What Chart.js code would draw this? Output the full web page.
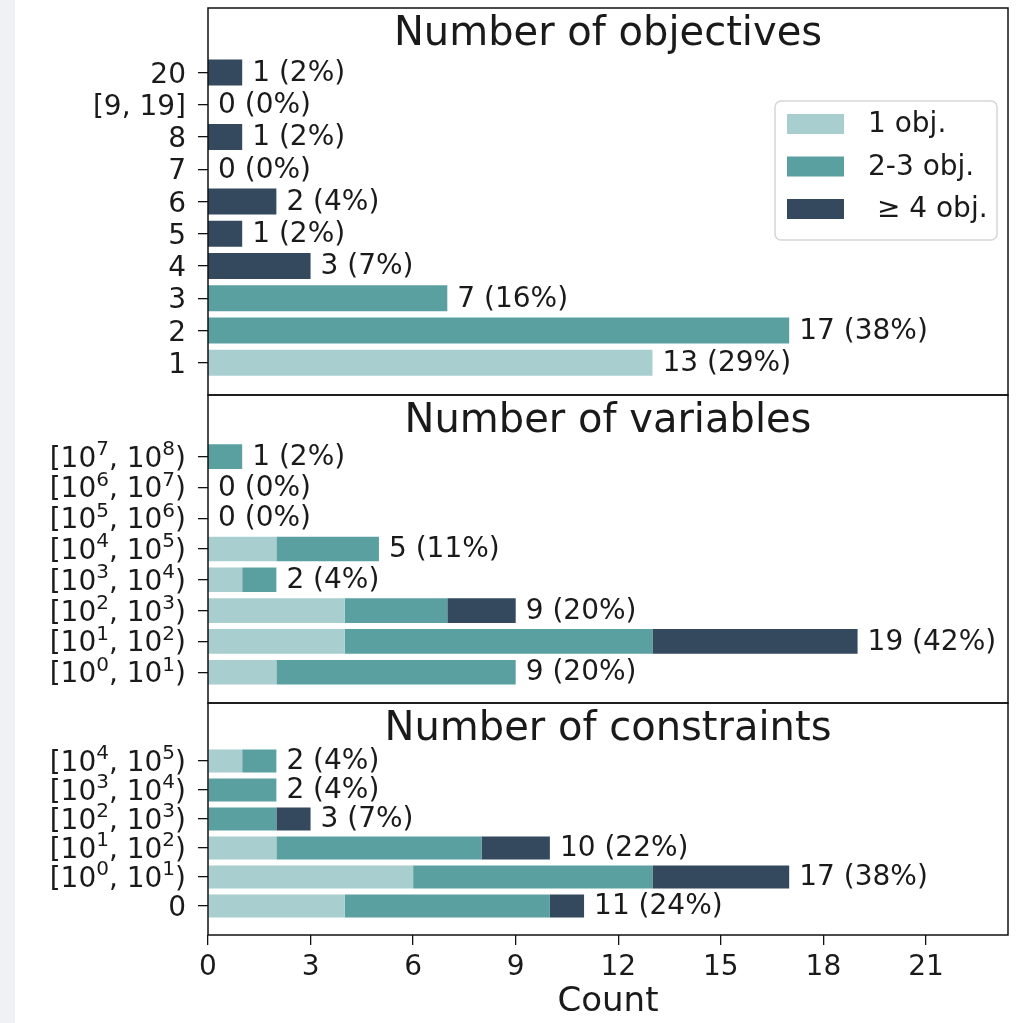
<!DOCTYPE html>
<html>
<head>
<meta charset="utf-8">
<script src="https://cdn.jsdelivr.net/npm/chart.js@4.4.1/dist/chart.umd.min.js"></script>
<style>
  html, body { margin: 0; padding: 0; background: #fff; }
  body { width: 1033px; height: 1023px; position: relative; overflow: hidden; }
  #strip { position: absolute; left: 0; top: 0; width: 15px; height: 1023px; background: #eff1f4; }
  canvas { position: absolute; left: 0; }
</style>
</head>
<body>
<div id="strip"></div>
<canvas id="objChart" width="1033" height="400" style="top:0px"></canvas>
<canvas id="varChart" width="1033" height="318" style="top:390px"></canvas>
<canvas id="conChart" width="1033" height="325" style="top:698px"></canvas>
<script>
const seriesNames = ['1 obj.', '2-3 obj.', ' \u2265 4 obj.'];
const seriesColors = ['#a8cecf', '#5ba0a0', '#34495e'];

// categories are listed bottom to top
const objLabels = ['1', '2', '3', '4', '5', '6', '7', '8', '[9, 19]', '20'];
const objOne = [13, 0, 0, 0, 0, 0, 0, 0, 0, 0];
const objTwoThree = [0, 17, 7, 0, 0, 0, 0, 0, 0, 0];
const objFourPlus = [0, 0, 0, 3, 1, 2, 0, 1, 0, 1];

const varLabels = ['[10\u2070, 10\u00b9)', '[10\u00b9, 10\u00b2)', '[10\u00b2, 10\u00b3)', '[10\u00b3, 10\u2074)',
                   '[10\u2074, 10\u2075)', '[10\u2075, 10\u2076)', '[10\u2076, 10\u2077)', '[10\u2077, 10\u2078)'];
const varOne = [2, 4, 4, 1, 2, 0, 0, 0];
const varTwoThree = [7, 9, 3, 1, 3, 0, 0, 1];
const varFourPlus = [0, 6, 2, 0, 0, 0, 0, 0];

const conLabels = ['0', '[10\u2070, 10\u00b9)', '[10\u00b9, 10\u00b2)', '[10\u00b2, 10\u00b3)', '[10\u00b3, 10\u2074)', '[10\u2074, 10\u2075)'];
const conOne = [4, 6, 2, 0, 0, 1];
const conTwoThree = [6, 7, 6, 2, 2, 1];
const conFourPlus = [1, 4, 2, 1, 0, 0];

const xTicks = [0, 3, 6, 9, 12, 15, 18, 21];
const xMax = 23.4;

const FONT = "'DejaVu Sans', sans-serif";
const INK = '#1a1a1a';
const TXT = 28;
Chart.defaults.font.family = FONT;
Chart.defaults.color = INK;

const SUP = { '\u2070': '0', '\u00b9': '1', '\u00b2': '2', '\u00b3': '3', '\u2074': '4',
              '\u2075': '5', '\u2076': '6', '\u2077': '7', '\u2078': '8' };

// draw a tick label right-aligned, exponents set smaller and raised like mathtext
function drawTickLabel(ctx, text, xRight, yMid) {
  const runs = [];
  for (const ch of text) {
    const sup = ch in SUP;
    const c = sup ? SUP[ch] : ch;
    if (runs.length && runs[runs.length - 1].sup === sup) runs[runs.length - 1].t += c;
    else runs.push({ sup, t: c });
  }
  const big = `${TXT}px ${FONT}`, small = `${Math.round(TXT * 0.72)}px ${FONT}`;
  let width = 0;
  runs.forEach(r => { ctx.font = r.sup ? small : big; r.w = ctx.measureText(r.t).width; width += r.w; });
  let x = xRight - width;
  const base = yMid + TXT * 0.36;
  runs.forEach(r => {
    ctx.font = r.sup ? small : big;
    ctx.fillText(r.t, x, r.sup ? base - TXT * 0.42 : base);
    x += r.w;
  });
}

// frame, in-axes title, y tick labels and "n (p%)" labels at the end of each stacked bar
const panelDecor = {
  id: 'panelDecor',
  afterDatasetsDraw(chart, args, opts) {
    const { ctx, scales: { x, y } } = chart;
    const sets = chart.data.datasets;
    const n = sets[0].data.length;
    const totals = [];
    for (let i = 0; i < n; i++) {
      totals.push(sets.reduce((s, d) => s + d.data[i].x, 0));
    }
    const grand = totals.reduce((s, v) => s + v, 0);
    ctx.save();
    ctx.font = `${TXT}px ${FONT}`;
    ctx.fillStyle = INK;
    ctx.textBaseline = 'middle';
    ctx.textAlign = 'left';
    totals.forEach((t, i) => {
      const pct = Math.round(t / grand * 100);
      ctx.fillText(`${t} (${pct}%)`, x.getPixelForValue(t) + 10, y.getPixelForValue(i) + 1);
    });
    ctx.textBaseline = 'alphabetic';
    opts.labels.forEach((lab, i) => {
      drawTickLabel(ctx, lab, y.right - 10 - 12, y.getPixelForValue(i));
    });
    ctx.restore();
  },
  afterDraw(chart, args, opts) {
    const { ctx, chartArea: a } = chart;
    ctx.save();
    ctx.strokeStyle = '#111';
    ctx.lineWidth = 1.5;
    ctx.strokeRect(a.left, a.top, a.right - a.left, a.bottom - a.top);
    ctx.font = `40px ${FONT}`;
    ctx.fillStyle = INK;
    ctx.textAlign = 'center';
    ctx.textBaseline = 'alphabetic';
    ctx.fillText(opts.title, (a.left + a.right) / 2, a.top + 37);
    ctx.restore();
  }
};

const boxLegend = {
  id: 'boxLegend',
  afterDraw(chart) {
    const { ctx, chartArea: a } = chart;
    const w = 222, h = 139;
    const left = a.right - 11 - w, top = a.top + 93;
    ctx.save();
    ctx.beginPath();
    ctx.roundRect(left, top, w, h, 6);
    ctx.fillStyle = 'rgba(255,255,255,0.85)';
    ctx.fill();
    ctx.strokeStyle = '#d6d6d6';
    ctx.lineWidth = 1.5;
    ctx.stroke();
    ctx.font = `${TXT}px ${FONT}`;
    ctx.textBaseline = 'middle';
    ctx.textAlign = 'left';
    chart.data.datasets.forEach((d, i) => {
      const cy = top + 23 + i * 42.5;
      ctx.fillStyle = d.backgroundColor;
      ctx.fillRect(left + 12, cy - 10, 57, 20);
      ctx.fillStyle = INK;
      ctx.fillText(d.label, left + 93, cy + 1);
    });
    ctx.restore();
  }
};

function makePanel(id, title, labels, series, opts) {
  const plugins = [panelDecor];
  if (opts.legend) plugins.push(boxLegend);
  return new Chart(document.getElementById(id), {
    type: 'bar',
    data: {
      datasets: series.map((vals, k) => ({
        label: seriesNames[k],
        backgroundColor: seriesColors[k],
        borderWidth: 0,
        data: vals.map((v, i) => ({ x: v, y: i }))
      }))
    },
    options: {
      indexAxis: 'y',
      responsive: false,
      animation: false,
      layout: { padding: opts.padding },
      datasets: { bar: { barPercentage: 0.8, categoryPercentage: 1 } },
      plugins: {
        legend: { display: false },
        tooltip: { enabled: false },
        panelDecor: { title, labels }
      },
      scales: {
        y: {
          type: 'linear',
          min: -1,
          max: labels.length + 1,
          stacked: true,
          offset: false,
          afterBuildTicks: s => { s.ticks = labels.map((_, i) => ({ value: i })); },
          afterFit: s => { s.width = 208; s.paddingTop = 0; s.paddingBottom = 0; },
          grid: { offset: false, drawOnChartArea: false, drawTicks: true, tickLength: 10, color: '#111', lineWidth: 1.3 },
          border: { display: false },
          ticks: { display: false }
        },
        x: opts.xAxis ? {
          type: 'linear',
          min: 0,
          max: xMax,
          stacked: true,
          afterBuildTicks: s => { s.ticks = xTicks.map(v => ({ value: v })); },
          afterFit: s => { s.height = 88; s.paddingLeft = 0; s.paddingRight = 0; },
          grid: { drawOnChartArea: false, drawTicks: true, tickLength: 10, color: '#111', lineWidth: 1.3 },
          border: { display: false },
          ticks: { padding: 6, color: INK, font: { size: TXT }, maxRotation: 0 },
          title: { display: true, text: 'Count', color: INK, font: { size: 34 }, padding: 0 }
        } : { type: 'linear', min: 0, max: xMax, stacked: true, display: false }
      }
    },
    plugins
  });
}

makePanel('objChart', 'Number of objectives', objLabels, [objOne, objTwoThree, objFourPlus],
  { padding: { top: 8, bottom: 5, right: 25, left: 0 }, legend: true });
makePanel('varChart', 'Number of variables', varLabels, [varOne, varTwoThree, varFourPlus],
  { padding: { top: 5, bottom: 5, right: 25, left: 0 } });
makePanel('conChart', 'Number of constraints', conLabels, [conOne, conTwoThree, conFourPlus],
  { padding: { top: 5, bottom: 0, right: 25, left: 0 }, xAxis: true });
</script>
</body>
</html>
